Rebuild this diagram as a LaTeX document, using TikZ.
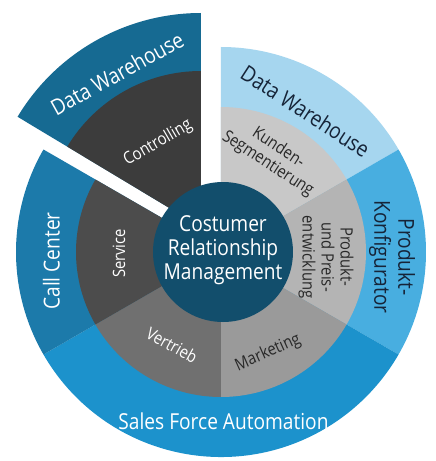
\documentclass[tikz,border=0pt]{standalone}
\usepackage{fontspec}
\setmainfont{Open Sans}[FakeStretch=0.87]
\definecolor{cDWdark}{RGB}{22,106,146}
\definecolor{cCC}{RGB}{28,122,170}
\definecolor{cSFA}{RGB}{28,146,204}
\definecolor{cPK}{RGB}{72,174,224}
\definecolor{cDWlight}{RGB}{166,214,239}
\definecolor{cInner}{RGB}{18,78,108}
\definecolor{cCtrl}{RGB}{60,60,60}
\definecolor{cServ}{RGB}{76,76,76}
\definecolor{cVert}{RGB}{112,112,112}
\definecolor{cMark}{RGB}{154,154,154}
\definecolor{cProd}{RGB}{180,180,180}
\definecolor{cKund}{RGB}{200,200,200}
\definecolor{cDarkTxt}{RGB}{22,36,56}
\definecolor{cGrayTxt}{RGB}{40,40,40}
\newcommand\mysector[4]{\fill[#1] (0,0) -- (#2:#4) arc[start angle=#2, end angle=#3, radius=#4] -- cycle;}
\tikzset{
  bigtxt/.style={font=\fontsize{22}{24}\selectfont, align=center, inner sep=0pt},
  smalltxt/.style={font=\fontsize{17}{19}\selectfont, align=center, inner sep=0pt},
}
\begin{document}
\begin{tikzpicture}[x=1pt,y=1pt]
\useasboundingbox[fill=white] (-221,-209) rectangle (215,252);
% outer ring
\mysector{cDWlight}{30}{90}{205}
\mysector{cPK}{-30}{30}{205}
\mysector{cSFA}{210}{330}{205}
\mysector{cCC}{150}{210}{205}
% middle ring
\mysector{cKund}{30}{90}{145}
\mysector{cProd}{-30}{30}{145}
\mysector{cMark}{270}{330}{145}
\mysector{cVert}{210}{270}{145}
\mysector{cServ}{150}{210}{145}
% exploded wedge
\begin{scope}[shift={(-20,25)}]
\mysector{cDWdark}{90}{149}{214}
\mysector{cCtrl}{90}{149}{156}
\end{scope}
% inner circle
\fill[cInner] (2,0) circle[radius=70];
% texts
\node[bigtxt, text=white] (crm) at (2,2) {Costumer\\Relationship\\Management};
\node[bigtxt, text=white] (sfa) at (2.5,-169) {Sales Force Automation};
\node[bigtxt, text=white, rotate=90] (cc) at (-169.5,-9) {Call Center};
\node[bigtxt, text=cDarkTxt, rotate=-90] (pk) at (171,-5) {Produkt-\\Konfigurator};
\node[bigtxt, text=cDarkTxt, rotate=-33] (dwl) at (84.5,141) {Data Warehouse};
\node[bigtxt, text=white, rotate=29] (dwd) at (-104,178.5) {Data Warehouse};
\node[smalltxt, text=white, rotate=30] (ctrl) at (-63,109) {Controlling};
\node[smalltxt, text=cGrayTxt, rotate=-33] (kund) at (52,96) {Kunden-\\Segmentierung};
\node[smalltxt, text=cGrayTxt, rotate=-90] (prod) at (105,-5) {Produkt-\\und Preis-\\entwicklung};
\node[smalltxt, text=white, rotate=90] (serv) at (-102,-1.5) {Service};
\node[smalltxt, text=white, rotate=-29] (vert) at (-49,-93) {Vertrieb};
\node[smalltxt, text=cGrayTxt, rotate=24] (mark) at (47,-101) {Marketing};
\end{tikzpicture}
\end{document}
